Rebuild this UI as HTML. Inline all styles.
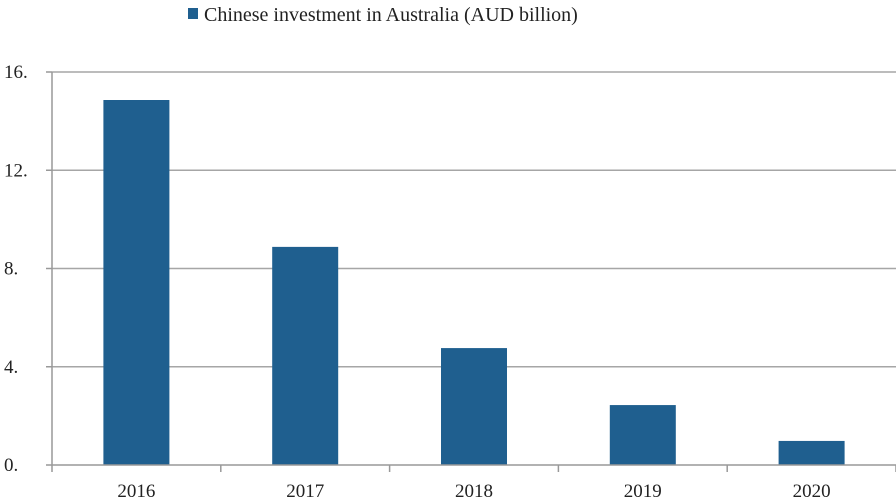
<!DOCTYPE html>
<html><head><meta charset="utf-8"><style>
body{margin:0;background:#fff;}
svg{display:block;font-family:"Liberation Serif",serif;}
</style></head><body>
<svg id="chart" width="896" height="502">
<g id="legend">
<rect x="188" y="8" width="10" height="11" fill="#1f5f8f"/>
<text x="204" y="21" font-size="20" fill="#222">Chinese investment in Australia (AUD billion)</text>
</g>
<g id="grid"></g><g id="bars"></g><g id="axes"></g>
</svg>
<script>
const categories=["2016","2017","2018","2019","2020"];
const values=[14.86,8.88,4.76,2.44,0.98];
const yTicks=[0,4,8,12,16];
const yTickLabels=["0.","4.","8.","12.","16."];
const NS="http://www.w3.org/2000/svg";
const x0=52,x1=896,y0=465,yTop=72,yMax=16;
const slot=(x1-x0)/categories.length;
const y=v=>y0-(v/yMax)*(y0-yTop);
function mk(t,a,p){const e=document.createElementNS(NS,t);for(const k in a)e.setAttribute(k,a[k]);p.appendChild(e);return e;}
const grid=document.getElementById('grid'),bars=document.getElementById('bars'),axes=document.getElementById('axes');
yTicks.forEach((t,i)=>{
 const yy=y(t);
 if(t>0){const g=mk('line',{x1:x0,x2:x1,y1:yy,y2:yy,stroke:'#a6a6a6','stroke-width':1.5},grid);
 
 }
 const tk=mk('line',{x1:46,x2:x0,y1:yy,y2:yy,stroke:'#999','stroke-width':1.5},axes);
 
 
 const lb=mk('text',{x:4,y:yy+6,'font-size':19,fill:'#222'},axes);
 lb.textContent=yTickLabels[i];
 
 
});
categories.forEach((c,i)=>{
 const cx=x0+slot*(i+0.5);
 const r=mk('rect',{x:cx-33,y:y(values[i]),width:66,height:y0-y(values[i]),fill:'#1f5f8f'},bars);
 
 
 const lb=mk('text',{x:cx,y:497,'font-size':19,fill:'#222','text-anchor':'middle'},axes);
 lb.textContent=c;
 
 
});
for(let i=0;i<=categories.length;i++){
 const xx=x0+slot*i;
 const tk=mk('line',{x1:xx,x2:xx,y1:y0,y2:472,stroke:'#999','stroke-width':1.5},axes);
 
 
}
const xa=mk('line',{x1:x0,x2:x1,y1:y0,y2:y0,stroke:'#999','stroke-width':1.5},axes);


const ya=mk('line',{x1:x0,x2:x0,y1:yTop,y2:y0,stroke:'#999','stroke-width':1.5},axes);


</script>
</body></html>
